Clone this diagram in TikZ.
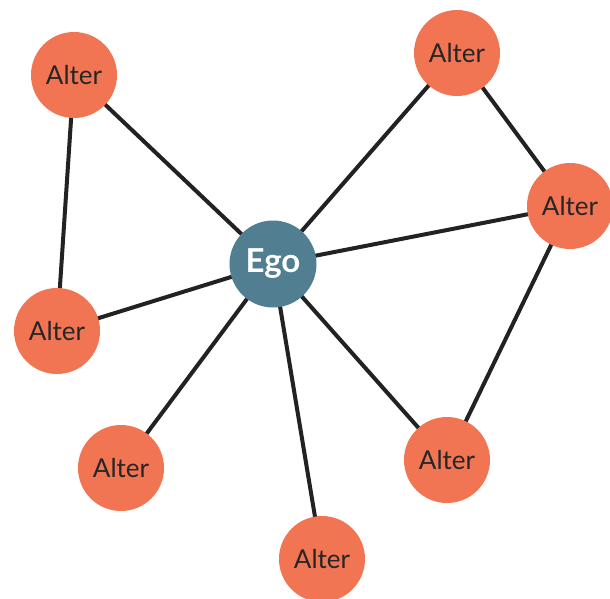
\documentclass[tikz,border=0pt]{standalone}
\usepackage{fontspec}
\setmainfont{Lato}
\usetikzlibrary{backgrounds}
\definecolor{altercol}{HTML}{F17552}
\definecolor{egocol}{HTML}{527E92}
\definecolor{edgecol}{HTML}{222222}
\begin{document}
\begin{tikzpicture}[x=1pt,y=-1pt,
  alter/.style={circle,fill=altercol,minimum size=86pt,inner sep=0pt,text=black!85,font=\fontsize{26}{28}\selectfont},
  ego/.style={circle,fill=egocol,minimum size=87pt,inner sep=0pt,text=white,font=\fontsize{33}{35}\selectfont\bfseries},
  tie/.style={draw=edgecol,line width=4pt}]
\useasboundingbox (0,0) rectangle (610,599);
\node[ego] (ego) at (273,264) {Ego};
\node[alter] (a1) at (74,75) {Alter};
\node[alter] (a2) at (457,53) {Alter};
\node[alter] (a3) at (570,206) {Alter};
\node[alter] (a4) at (57,331) {Alter};
\node[alter] (a5) at (121,468) {Alter};
\node[alter] (a6) at (322,559) {Alter};
\node[alter] (a7) at (447,460) {Alter};
\begin{scope}[on background layer]
\path[tie] (ego.center) -- (a1.center);
\path[tie] (ego.center) -- (a2.center);
\path[tie] (ego.center) -- (a3.center);
\path[tie] (ego.center) -- (a4.center);
\path[tie] (ego.center) -- (a5.center);
\path[tie] (ego.center) -- (a6.center);
\path[tie] (ego.center) -- (a7.center);
\path[tie] (a1.center) -- (a4.center);
\path[tie] (a2.center) -- (a3.center);
\path[tie] (a3.center) -- (a7.center);
\end{scope}
\end{tikzpicture}
\end{document}
